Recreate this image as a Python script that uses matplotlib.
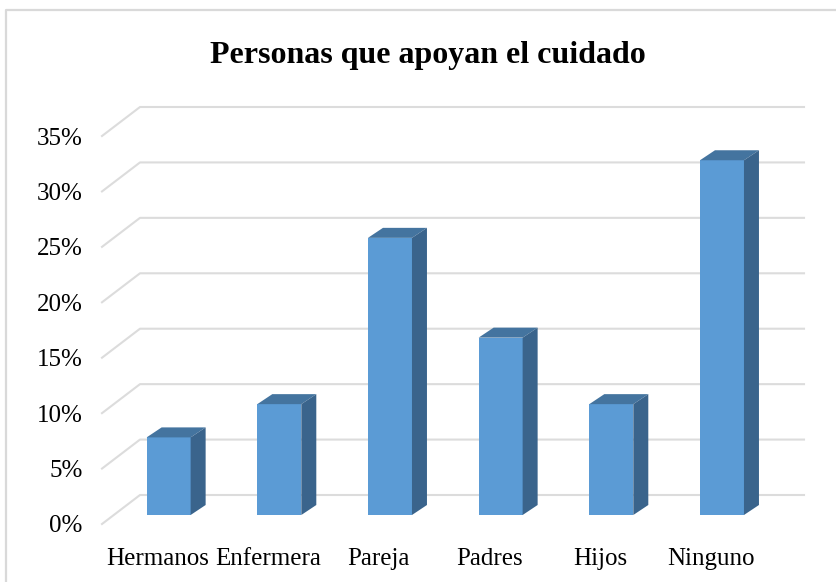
import matplotlib
matplotlib.use("Agg")
import matplotlib.pyplot as plt
from matplotlib.lines import Line2D
from matplotlib.patches import Polygon

categories = ['Hermanos', 'Enfermera', 'Pareja', 'Padres', 'Hijos', 'Ninguno']
values = [7, 10, 25, 16, 10, 32]
ticks = [0, 5, 10, 15, 20, 25, 30, 35]
tick_labels = ['0%', '5%', '10%', '15%', '20%', '25%', '30%', '35%']

W, H = 836, 582
plt.rcParams['font.family'] = 'Liberation Serif'

fig = plt.figure(figsize=(W / 100, H / 100), dpi=100)
# axes = front plane of the fake 3D box
ax = fig.add_axes([102 / W, 1 - 524 / H, 664 / W, 388 / H])
ax.set_xlim(-0.5, 5.5)
ax.set_ylim(0, 35)
ax.patch.set_visible(False)
for s in ax.spines.values():
    s.set_visible(False)
ax.tick_params(length=0)

# pixel sizes to data units
xu = 6 / 664
yu = 35 / 388
wall_dx = 38 * xu
wall_dy = 29 * yu
shift_x = 11.3 * xu
shift_y = 9 * yu
bar_w = 44 * xu
bar_dx = 15 * xu
bar_dy = 10 * yu
grid_col = '#dcdcdc'

for t in ticks:
    ax.plot([-0.5, -0.5 + wall_dx, 5.5 + wall_dx], [t, t + wall_dy, t + wall_dy],
            color=grid_col, lw=1.5, clip_on=False, zorder=1)

x = list(range(len(categories)))
bar_x = [i + shift_x for i in x]
ax.bar(bar_x, values, width=bar_w, bottom=shift_y, color='#5b9bd5', zorder=3, clip_on=False)
for xi, v in zip(bar_x, values):
    left = xi - bar_w / 2
    right = xi + bar_w / 2
    top = v + shift_y
    ax.add_patch(Polygon([(left, top), (right, top), (right + bar_dx, top + bar_dy), (left + bar_dx, top + bar_dy)],
                         closed=True, color='#44749f', lw=0, zorder=3, clip_on=False))
    ax.add_patch(Polygon([(right, shift_y), (right + bar_dx, shift_y + bar_dy), (right + bar_dx, top + bar_dy), (right, top)],
                         closed=True, color='#3a648c', lw=0, zorder=3, clip_on=False))

ax.set_xticks(x)
ax.set_xticklabels(categories, fontsize=18, color='black')
ax.tick_params(axis='x', pad=17)
ax.set_yticks(ticks)
ax.set_yticklabels(tick_labels, fontsize=18, color='black')
ax.tick_params(axis='y', pad=14)

fig.text(428 / W, 1 - 55 / H, 'Personas que apoyan el cuidado', fontsize=23,
         fontweight='bold', ha='center', va='center', color='black')

# chart frame, only top and left show in the picture
fig.add_artist(Line2D([6 / W, 6 / W, 1], [0, 1 - 10 / H, 1 - 10 / H], transform=fig.transFigure,
                      color='#d9d9d9', lw=1.6))

plt.savefig('out.png', dpi=100)
plt.close()
